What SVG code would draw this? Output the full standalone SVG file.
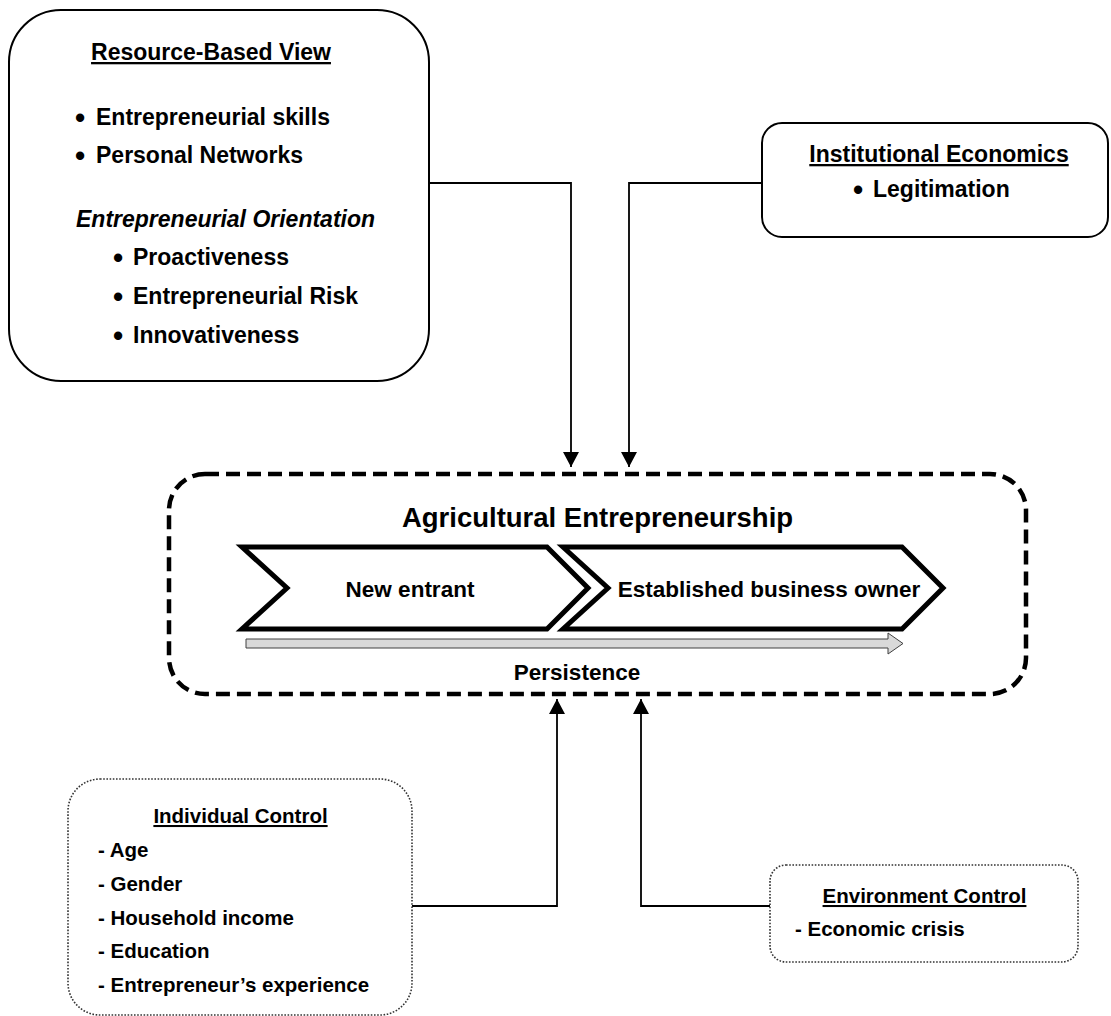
<svg xmlns="http://www.w3.org/2000/svg" width="1111" height="1016" viewBox="0 0 1111 1016">
<defs>
<style>
text{font-family:"Liberation Sans",Arial,sans-serif;font-weight:bold;fill:#000}
.t23{font-size:23px}
.t22{font-size:22.5px}
.t20{font-size:20.5px}
.u{text-decoration:underline}
.mid{text-anchor:middle}
.b{font-size:29px;baseline-shift:-2.5px}
.solid{fill:#fff;stroke:#000;stroke-width:2}
.dotted{fill:#fff;stroke:#333;stroke-width:1.6;stroke-dasharray:1.6 1.6}
.conn{fill:none;stroke:#000;stroke-width:1.8}
.chev{fill:#fff;stroke:#000;stroke-width:5;stroke-linejoin:miter}
</style>
<marker id="ah" viewBox="0 0 15 16" refX="15" refY="8" markerWidth="15" markerHeight="16" markerUnits="userSpaceOnUse" orient="auto">
<path d="M0,0 L15,8 L0,16 z" fill="#000"/>
</marker>
</defs>
<rect width="1111" height="1016" fill="#fff"/>

<g id="connectors">
<path class="conn" d="M428,183 H571 V467" marker-end="url(#ah)"/>
<path class="conn" d="M762,183 H629 V467" marker-end="url(#ah)"/>
<path class="conn" d="M412,906 H557 V699" marker-end="url(#ah)"/>
<path class="conn" d="M770,906 H641 V699" marker-end="url(#ah)"/>
</g>

<g id="rbv">
<rect class="solid" x="9" y="10" width="420" height="371" rx="52" ry="52"/>
<text class="t23 u mid" x="211" y="60">Resource-Based View</text>
<text class="t23" y="125"><tspan class="b" x="75">• </tspan><tspan x="96">Entrepreneurial skills</tspan></text>
<text class="t23" y="163"><tspan class="b" x="75">• </tspan><tspan x="96">Personal Networks</tspan></text>
<text class="t23" x="76" y="227" font-style="italic">Entrepreneurial Orientation</text>
<text class="t23" y="265"><tspan class="b" x="113">• </tspan><tspan x="133">Proactiveness</tspan></text>
<text class="t23" y="304"><tspan class="b" x="113">• </tspan><tspan x="133">Entrepreneurial Risk</tspan></text>
<text class="t23" y="343"><tspan class="b" x="113">• </tspan><tspan x="133">Innovativeness</tspan></text>
</g>

<g id="institutional">
<rect class="solid" x="762" y="123" width="346" height="114" rx="20" ry="20"/>
<text class="t23 u mid" x="939" y="162">Institutional Economics</text>
<text class="t23" y="197"><tspan class="b" x="853">• </tspan><tspan x="873">Legitimation</tspan></text>
</g>

<g id="agri">
<rect x="169" y="474" width="857" height="220" rx="36" ry="36" fill="none" stroke="#000" stroke-width="4.5" stroke-dasharray="14 7"/>
<text class="mid" x="597.5" y="527" font-size="27.5">Agricultural Entrepreneurship</text>
</g>

<g id="new-entrant">
<polygon class="chev" points="242,547 547,547 588,588 547,629 242,629 287,588"/>
<text class="t22 mid" x="410" y="597">New entrant</text>
</g>

<g id="established">
<polygon class="chev" points="563,547 902,547 943,588 902,629 563,629 608,588"/>
<text class="t22 mid" x="769" y="597">Established business owner</text>
</g>

<g id="persistence">
<polygon points="246,639 888,639 888,633 903,643.5 888,654 888,648 246,648" fill="#d9d9d9" stroke="#404040" stroke-width="1"/>
<text class="t22 mid" x="577" y="680">Persistence</text>
</g>

<g id="individual">
<rect class="dotted" x="68" y="779" width="344" height="236" rx="32" ry="32"/>
<text class="t20 u mid" x="240.5" y="823">Individual Control</text>
<text class="t20" x="98" y="857">- Age</text>
<text class="t20" x="98" y="891">- Gender</text>
<text class="t20" x="98" y="925">- Household income</text>
<text class="t20" x="98" y="958">- Education</text>
<text class="t20" x="98" y="992">- Entrepreneur’s experience</text>
</g>

<g id="environment">
<rect class="dotted" x="770" y="865" width="308" height="97" rx="16" ry="16"/>
<text class="t20 u mid" x="924.5" y="903">Environment Control</text>
<text class="t20" x="795" y="936">- Economic crisis</text>
</g>
</svg>
